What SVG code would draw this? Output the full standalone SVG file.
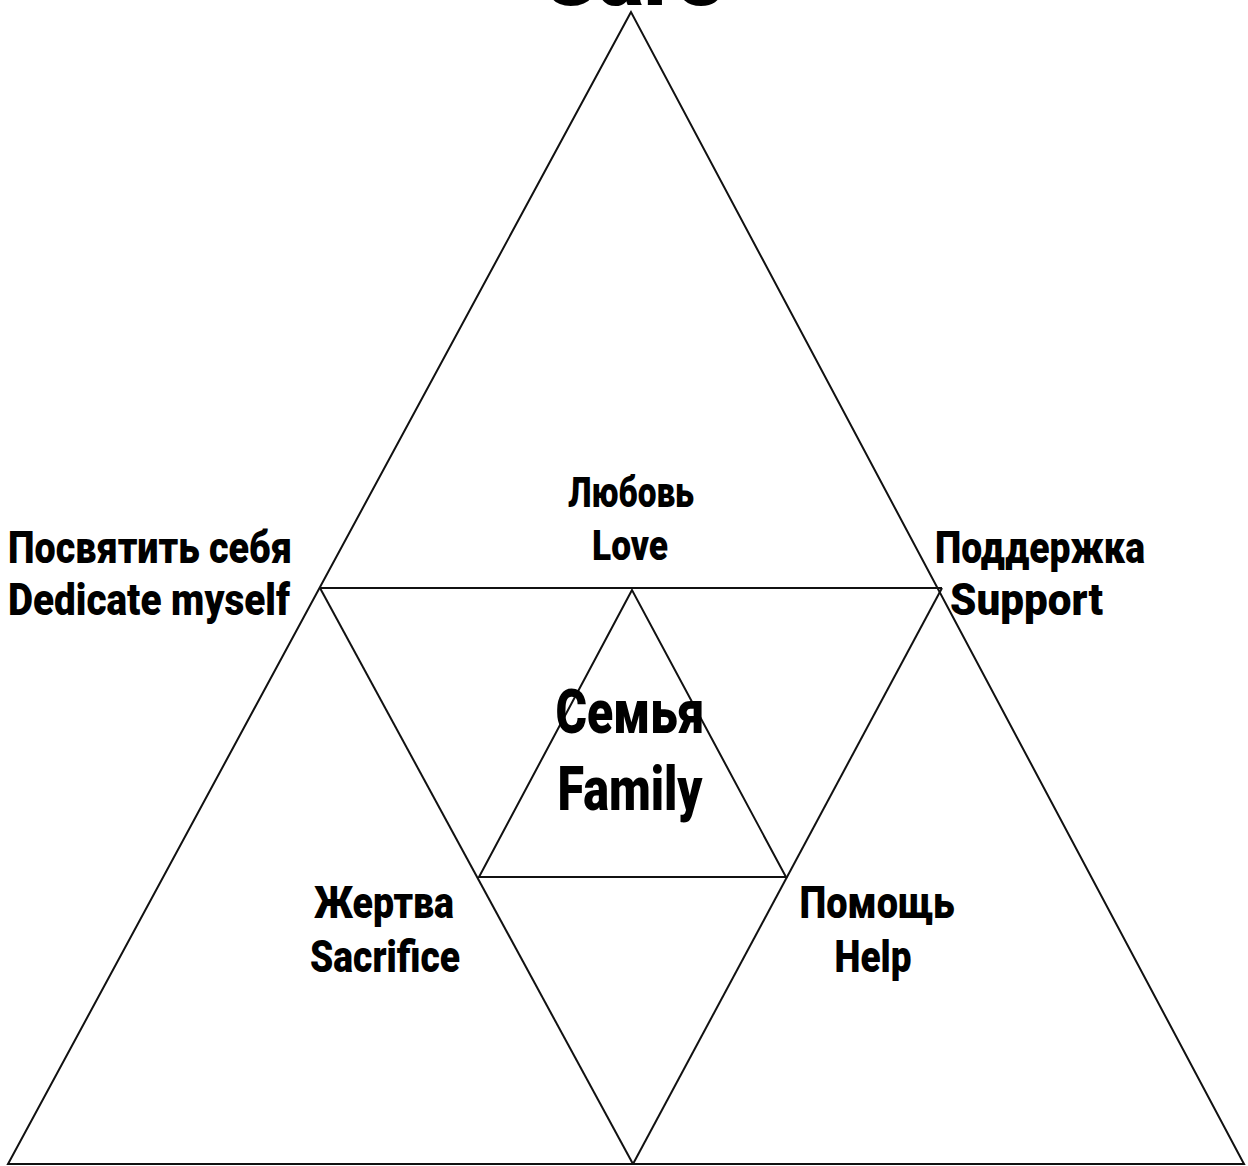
<svg xmlns="http://www.w3.org/2000/svg" width="1248" height="1166" viewBox="0 0 1248 1166">
<style>
.ln{stroke:#111;stroke-width:2;fill:none;stroke-linejoin:miter}
.t{font-family:Roboto,"Liberation Sans",sans-serif;font-weight:900;fill:#000}
.m{text-anchor:middle}
</style>
<rect width="1248" height="1166" fill="#fff"/>
<g id="connectors">
<polygon class="ln" points="631,12 8,1164 1244,1164"/>
<line class="ln" x1="320" y1="588" x2="942" y2="588"/>
<line class="ln" x1="320" y1="588" x2="633" y2="1164"/>
<line class="ln" x1="942" y1="588" x2="633" y2="1164"/>
<polygon class="ln" points="632,590 479,877 786,877"/>
</g>
<g id="care"><text class="t m" x="632" y="5" font-size="80" textLength="180" lengthAdjust="spacingAndGlyphs">Care</text></g>
<g id="love"><text class="t m" x="631" y="507" font-size="42" textLength="126" lengthAdjust="spacingAndGlyphs">Любовь</text><text class="t m" x="630" y="560" font-size="42" textLength="76" lengthAdjust="spacingAndGlyphs">Love</text></g>
<g id="dedicate"><text class="t" x="8" y="563" font-size="44" textLength="284" lengthAdjust="spacingAndGlyphs">Посвятить себя</text><text class="t" x="8" y="615" font-size="44" textLength="282" lengthAdjust="spacingAndGlyphs">Dedicate myself</text></g>
<g id="support"><text class="t" x="935" y="563" font-size="44" textLength="210" lengthAdjust="spacingAndGlyphs">Поддержка</text><text class="t" x="950" y="615" font-size="44" textLength="153" lengthAdjust="spacingAndGlyphs">Support</text></g>
<g id="family"><text class="t m" x="630" y="733" font-size="62" textLength="149" lengthAdjust="spacingAndGlyphs">Семья</text><text class="t m" x="630" y="810" font-size="62" textLength="145" lengthAdjust="spacingAndGlyphs">Family</text></g>
<g id="sacrifice"><text class="t m" x="384" y="918" font-size="44" textLength="140" lengthAdjust="spacingAndGlyphs">Жертва</text><text class="t m" x="385" y="972" font-size="44" textLength="150" lengthAdjust="spacingAndGlyphs">Sacrifice</text></g>
<g id="help"><text class="t m" x="877" y="918" font-size="44" textLength="155" lengthAdjust="spacingAndGlyphs">Помощь</text><text class="t m" x="873" y="972" font-size="44" textLength="77" lengthAdjust="spacingAndGlyphs">Help</text></g>
</svg>
